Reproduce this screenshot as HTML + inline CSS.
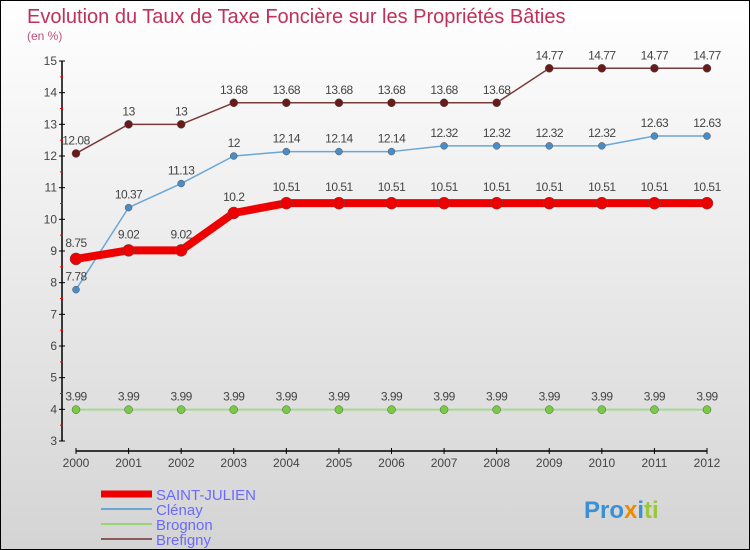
<!DOCTYPE html>
<html><head><meta charset="utf-8"><style>
body{margin:0}
#c{width:750px;height:550px;position:relative;box-sizing:border-box;border:1px solid #000;background:linear-gradient(#fff,#d4d4d4);font-family:"Liberation Sans",sans-serif;overflow:hidden}
</style></head><body>
<div id="c">
<svg width="750" height="550" id="s" style="position:absolute;left:0;top:0" font-family="Liberation Sans, sans-serif">
<text x="26" y="22" font-size="20" fill="#c0305a">Evolution du Taux de Taxe Foncière sur les Propriétés Bâties</text>
<text x="26" y="39" font-size="12" fill="#c0507a">(en %)</text>
<g id="axes"></g><g id="series"></g>
<g>
<line x1="100" y1="493" x2="151" y2="493" stroke="#e00" stroke-width="7"/>
<text x="155" y="499" font-size="15" fill="#6a6aff">SAINT-JULIEN</text>
<line x1="100" y1="508" x2="151" y2="508" stroke="#6aa6d6" stroke-width="2"/>
<text x="155" y="514" font-size="15" fill="#6a6aff">Clénay</text>
<line x1="100" y1="523" x2="151" y2="523" stroke="#99d477" stroke-width="2"/>
<text x="155" y="529" font-size="15" fill="#6a6aff">Brognon</text>
<line x1="100" y1="538" x2="151" y2="538" stroke="#8a5a5a" stroke-width="2"/>
<text x="155" y="544" font-size="15" fill="#6a6aff">Brefigny</text>
</g>
<text x="583" y="517" font-size="24" font-weight="bold"><tspan fill="#3a8fd6">Pro</tspan><tspan fill="#f08a00">x</tspan><tspan fill="#3a8fd6">i</tspan><tspan fill="#9ac83a">ti</tspan></text>
</svg>
</div>
<script>
const years=[2000,2001,2002,2003,2004,2005,2006,2007,2008,2009,2010,2011,2012];
const yTicks=[3,4,5,6,7,8,9,10,11,12,13,14,15];
const saintJulien=[8.75,9.02,9.02,10.2,10.51,10.51,10.51,10.51,10.51,10.51,10.51,10.51,10.51];
const clenay=[7.78,10.37,11.13,12,12.14,12.14,12.14,12.32,12.32,12.32,12.32,12.63,12.63];
const brognon=[3.99,3.99,3.99,3.99,3.99,3.99,3.99,3.99,3.99,3.99,3.99,3.99,3.99];
const brefigny=[12.08,13,13,13.68,13.68,13.68,13.68,13.68,13.68,14.77,14.77,14.77,14.77];
const NS="http://www.w3.org/2000/svg";
const xS=i=>75+i*(706-75)/(years.length-1);
const yS=v=>440-(v-3)*380/12;
function mk(t,a,p){const e=document.createElementNS(NS,t);for(const k in a)e.setAttribute(k,a[k]);p.appendChild(e);return e;}
const ax=document.getElementById('axes');
let e=mk('line',{x1:61,y1:yS(15),x2:61,y2:yS(3),stroke:'#000','stroke-width':1.5},ax);


e=mk('line',{x1:xS(0),y1:450,x2:xS(12),y2:450,stroke:'#000','stroke-width':1.5},ax);


yTicks.forEach(v=>{
 mk('line',{x1:58,x2:64,y1:yS(v),y2:yS(v),stroke:'#000'},ax);
 if(v<15)mk('line',{x1:59,x2:62,y1:yS(v+0.5),y2:yS(v+0.5),stroke:'#f00'},ax);
 const t=mk('text',{x:56,y:yS(v)+4,'font-size':12,'text-anchor':'end',fill:'#444'},ax);t.textContent=v;
 
 
});
years.forEach((y,i)=>{
 mk('line',{x1:xS(i),x2:xS(i),y1:447,y2:453,stroke:'#000'},ax);
 const t=mk('text',{x:xS(i),y:466,'font-size':12,'text-anchor':'middle',fill:'#444'},ax);t.textContent=y;
 
 
});
const sg=document.getElementById('series');
function series(name,vals,col,w,r,dot,lblOff){
 const g=mk('g',{},sg);
 
 
 mk('polyline',{points:vals.map((v,i)=>xS(i)+','+yS(v)).join(' '),fill:'none',stroke:col,'stroke-width':w,'stroke-linejoin':'round'},g);
 vals.forEach((v,i)=>{
  const c=mk('circle',{cx:xS(i),cy:yS(v),r:r,fill:dot,stroke:'#555','stroke-width':0.5},g);
  
  
  const t=mk('text',{x:xS(i),y:yS(v)+lblOff(i),'font-size':12,'text-anchor':'middle',fill:'#444','letter-spacing':'-0.5'},g);
  t.textContent=String(v);
  
  
 });
}
series('brognon',brognon,'#a8d890',2,4,'#77cc44',()=>-9);
series('brefigny',brefigny,'#7a3a3a',1.5,4,'#6a1a1a',()=>-9);
series('clenay',clenay,'#6aa6d6',1.5,3.5,'#4a8cc6',i=>i==0?-9:-9);
series('saint-julien',saintJulien,'#ee0000',8,6,'#ee0000',i=>-12);
</script>
</body></html>
